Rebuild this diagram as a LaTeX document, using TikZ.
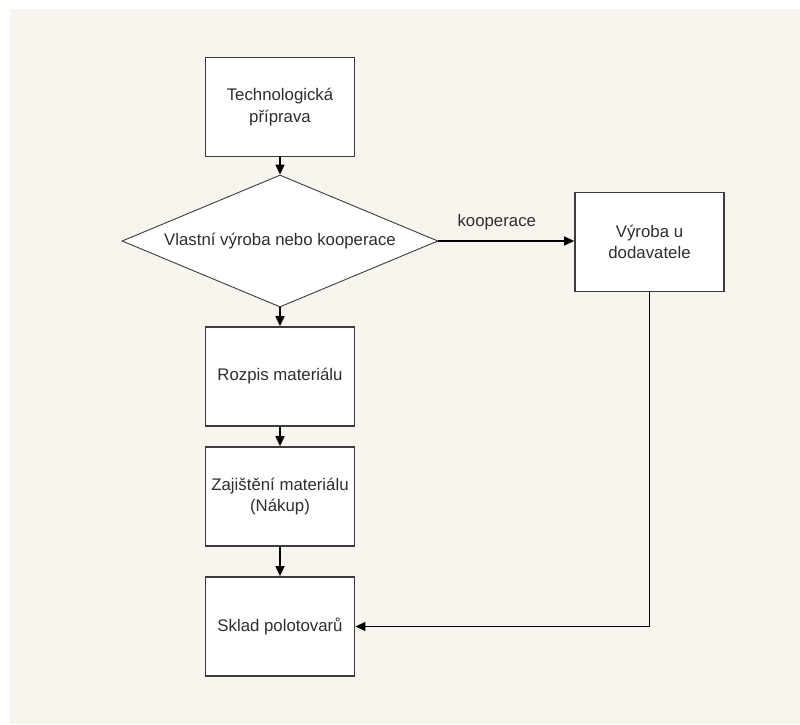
\documentclass[tikz,border=0pt]{standalone}
\usepackage{fontspec}
\setmainfont{Liberation Sans}
\usepackage{xcolor}
\usepackage{tikz}
\usetikzlibrary{shapes.geometric, arrows.meta}
\definecolor{paper}{HTML}{F8F5EE}
\definecolor{edge}{HTML}{3C3C3C}
\definecolor{ink}{HTML}{2E2E2E}

\begin{document}
\begin{tikzpicture}[x=1pt, y=-1pt,
		every node/.style={font=\fontsize{16.8}{21.5}\selectfont, text=ink},
		box/.style={draw=edge, line width=1.8pt, fill=white, minimum width=149pt, minimum height=99pt, align=center, inner sep=0pt},
		decide/.style={diamond, aspect=2.4, draw=edge, line width=0.9pt, fill=white, minimum width=316pt, minimum height=132pt, inner sep=0pt},
		link/.style={-{Triangle[length=10pt, width=9pt]}, black, line width=1.3pt}]
		\useasboundingbox (0,0) rectangle (800,724);
		\fill[white] (0,0) rectangle (800,724);
		\fill[paper] (10,9) rectangle (800,724);

		\node[box] at (280,107) (tech) {Technologická\\příprava};
		\node[decide] at (280,241) (choice) {Vlastní výroba nebo kooperace};
		\node[box] at (280,376.5) (rozpis) {Rozpis materiálu};
		\node[box] at (280,496.5) (zajisteni) {Zajištění materiálu\\(Nákup)};
		\node[box] at (280,626.5) (sklad) {Sklad polotovarů};
		\node[box] at (649.5,242) (dodavatel) {Výroba u\\dodavatele};

		\draw[link] (tech.south) -- (choice.north);
		\draw[link] (choice.south) -- (rozpis.north);
		\draw[link] (rozpis.south) -- (zajisteni.north);
		\draw[link] (zajisteni.south) -- (sklad.north);
		\draw[link] (choice.east) -- node[pos=0.43, above=7pt] (koop) {kooperace} (choice.east -| dodavatel.west);
		\draw[link] (dodavatel.south) |- (sklad.east);
	\end{tikzpicture}
\end{document}
